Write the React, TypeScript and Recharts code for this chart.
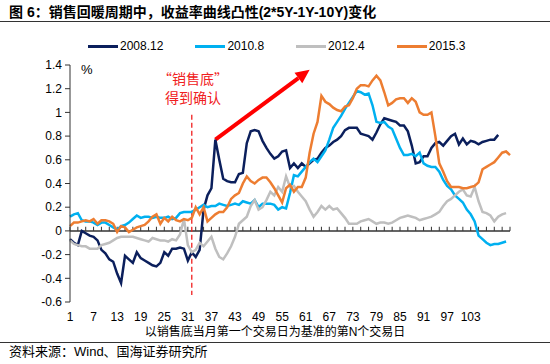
import { LineChart, Line, XAxis, YAxis, ReferenceLine } from "recharts";

// 以销售底当月第一个交易日为基准的第N个交易日
const days = Array.from({ length: 113 }, (_, i) => i + 1);
const xTickLabels = [1, 7, 13, 19, 25, 31, 37, 43, 49, 55, 61, 67, 73, 79, 85, 91, 97, 103];
const yTicks = [-0.6, -0.4, -0.2, 0, 0.2, 0.4, 0.6, 0.8, 1, 1.2, 1.4];

const seriesNames = ["2008.12", "2010.8", "2012.4", "2015.3"];
const seriesColors = ["#0B1F5C", "#00B0F0", "#BFBFBF", "#ED7D31"];

const s200812 = [
  -0.07, -0.1, -0.12, 0.0, -0.02, -0.04, -0.05, -0.08, -0.16, -0.19,
  -0.24, -0.26, -0.36, -0.44, -0.21, -0.24, -0.27, -0.18, -0.23, -0.25,
  -0.27, -0.29, -0.3, -0.27, -0.18, -0.21, -0.15, -0.15, -0.14, -0.15,
  -0.25, -0.18, -0.22, -0.16, 0.18, 0.3, 0.36, 0.77, 0.6, 0.44,
  0.42, 0.41, 0.41, 0.48, 0.49, 0.74, 0.84, 0.85, 0.84, 0.76,
  0.7, 0.65, 0.61, 0.63, 0.67, 0.68, 0.53, 0.57, 0.53, 0.57,
  0.54, 0.57, 0.6, 0.61, 0.66, 0.7, 0.72, 0.75, 0.77, 0.8,
  0.85, 0.87, 0.87, 0.87, 0.82, 0.81, 0.8, 0.77, 0.83, 0.9,
  0.95, 0.94, 0.93, 0.92, 0.89, 0.89, 0.84, 0.72, 0.57, 0.58,
  0.63, 0.63, 0.7, 0.74, 0.75, 0.72, 0.76, 0.8, 0.82, 0.73,
  0.78, 0.73, 0.76, 0.75, 0.73, 0.75, 0.76, 0.77, 0.77, 0.81,
];

const s20108 = [
  0.12, 0.14, 0.15, 0.09, 0.08, 0.08, 0.07, 0.05, 0.07, 0.07,
  0.05, 0.03, 0.01, 0.04, 0.05, 0.07, 0.1, 0.13, 0.11, 0.12,
  0.12, 0.11, 0.12, 0.11, 0.11, 0.12, 0.1, 0.11, 0.15, 0.16,
  0.16, 0.16, 0.18, 0.2, 0.22, 0.2, 0.21, 0.21, 0.23, 0.22,
  0.21, 0.22, 0.23, 0.22, 0.25, 0.24, 0.23, 0.26, 0.2, 0.23,
  0.23, 0.23, 0.22, 0.18, 0.2, 0.19, 0.32, 0.47, 0.46, 0.5,
  0.54, 0.58, 0.61, 0.58, 0.63, 0.68, 0.77, 0.87, 0.92, 0.97,
  1.03, 1.08, 1.13, 1.18, 1.17, 1.15, 1.16, 1.06, 0.92, 0.91,
  0.92, 0.88, 0.86, 0.78, 0.7, 0.64, 0.64, 0.65, 0.63, 0.66,
  0.57, 0.55, 0.54, 0.54, 0.5, 0.43, 0.38, 0.35, 0.3, 0.27,
  0.24, 0.18, 0.14, 0.08, -0.04, -0.07, -0.1, -0.12, -0.11, -0.11,
  -0.1, -0.09,
];

const s20124 = [
  -0.08, -0.11, -0.12, -0.13, -0.13, -0.15, -0.15, -0.15, -0.12, -0.11,
  -0.1, -0.08, -0.06, -0.05, -0.05, -0.05, -0.05, -0.06, -0.07, -0.08,
  -0.09, -0.06, -0.07, -0.08, -0.08, -0.09, -0.07, -0.08, -0.03, 0.1,
  -0.12, -0.18, -0.16, -0.1, -0.13, -0.09, -0.05, -0.15, -0.22, -0.24,
  -0.19, -0.13, -0.05, 0.06, 0.09, 0.12, 0.21, 0.26, 0.18, 0.2,
  0.26, 0.33, 0.3, 0.37, 0.33, 0.46, 0.37, 0.38, 0.33, 0.29,
  0.25, 0.18, 0.12, 0.16, 0.21, 0.18, 0.21, 0.18, 0.19, 0.15,
  0.11, 0.06, 0.06, 0.06, 0.08, 0.09, 0.1, 0.08, 0.06, 0.07,
  0.07, 0.06, 0.07, 0.09, 0.11, 0.12, 0.13, 0.12, 0.11, 0.09,
  0.1, 0.11, 0.12, 0.14, 0.16, 0.21, 0.25, 0.27, 0.3, 0.33,
  0.35, 0.3, 0.29, 0.37, 0.25, 0.16, 0.15, 0.13, 0.08, 0.12,
  0.14, 0.15,
];

const s20153 = [
  0.04, 0.07, 0.07, 0.08, 0.09, 0.08, 0.1, 0.06, 0.09, 0.09,
  0.08, 0.06, -0.01, 0.04, 0.03, -0.01, 0.01, 0.03, 0.04, 0.05,
  0.08, 0.12, 0.14, 0.06, 0.11, 0.08, 0.12, 0.09, 0.08, 0.1,
  0.09, 0.11, 0.2, 0.14, 0.2, 0.08, 0.11, 0.14, 0.16, 0.16,
  0.2, 0.27, 0.3, 0.32, 0.4, 0.46, 0.42, 0.4, 0.43, 0.45,
  0.45, 0.41, 0.36, 0.3, 0.24, 0.36, 0.39, 0.33, 0.37, 0.37,
  0.45, 0.66, 0.82, 0.92, 1.14, 1.09, 1.07, 1.04, 1.02, 1.01,
  1.05, 1.06, 1.12, 1.2, 1.23, 1.23, 1.22, 1.27, 1.31, 1.27,
  1.17, 1.06, 1.08, 1.11, 1.12, 1.12, 1.08, 1.12, 1.09, 1.0,
  0.98, 0.98, 1.0, 0.8, 0.57, 0.5, 0.42, 0.37, 0.37, 0.37,
  0.36, 0.36, 0.37, 0.38, 0.41, 0.52, 0.54, 0.56, 0.58, 0.62,
  0.66, 0.67, 0.64,
];

const seriesValues = [s200812, s20108, s20124, s20153];
const seriesKeys = ["s0", "s1", "s2", "s3"];

const data = days.map((d, i) => {
  const row: Record<string, number | null> = { day: d };
  seriesValues.forEach((vals, j) => {
    row[seriesKeys[j]] = i < vals.length ? vals[i] : null;
  });
  return row;
});

// small inward ticks sitting on the zero line, one every two days
const zeroTicks = days.filter((d) => d % 2 === 1);

// "销售底" marker line and the red arrow
const bottomDay = 32;
const arrowFrom = { x: 38, y: 0.77 };
const arrowTo = { x: 62, y: 1.36 };

const FONT = "'Liberation Sans', Arial, 'Noto Sans CJK SC', sans-serif";
const RED = "#FF0000";

function XTick(props: any) {
  const { x, y, payload } = props;
  if (!xTickLabels.includes(payload.value)) return <g />;
  return (
    <text x={x} y={y} dy={11} textAnchor="middle" fontSize={12} fill="#000" fontFamily={FONT}>
      {payload.value}
    </text>
  );
}

function arrowShape(p: any) {
  const { x1, y1, x2, y2 } = p;
  const ang = Math.atan2(y2 - y1, x2 - x1);
  const head = 14;
  const half = 6.5;
  const bx = x2 - head * Math.cos(ang);
  const by = y2 - head * Math.sin(ang);
  const nx = -Math.sin(ang);
  const ny = Math.cos(ang);
  return (
    <g>
      <line x1={x1} y1={y1} x2={bx} y2={by} stroke={RED} strokeWidth={4} />
      <polygon
        points={`${x2},${y2} ${bx + nx * half},${by + ny * half} ${bx - nx * half},${by - ny * half}`}
        fill={RED}
      />
    </g>
  );
}

export default function App() {
  return (
    <div
      style={{
        position: "absolute",
        left: 0,
        top: 0,
        width: 550,
        height: 364,
        background: "#fff",
        fontFamily: FONT,
        color: "#000",
      }}
    >
      <div style={{ position: "absolute", left: 9, top: 3, fontSize: 14, lineHeight: "18px", fontWeight: 700 }}>
        图 6：销售回暖周期中，收益率曲线凸性(2*5Y-1Y-10Y)变化
      </div>
      <div style={{ position: "absolute", left: 0, top: 21, width: 550, borderTop: "1px solid #333" }} />

      <div style={{ position: "absolute", left: 88, top: 38, display: "flex", gap: 32, fontSize: 12, lineHeight: "16px" }}>
        {seriesNames.map((name, i) => (
          <div key={name} style={{ display: "flex", alignItems: "center" }}>
            <span style={{ display: "inline-block", width: 30, height: 3, background: seriesColors[i], marginRight: 2 }} />
            <span>{name}</span>
          </div>
        ))}
      </div>

      <div style={{ position: "absolute", left: 81, top: 62, fontSize: 13, lineHeight: "16px" }}>%</div>

      <div
        style={{
          position: "absolute",
          left: 148,
          top: 69,
          width: 90,
          textAlign: "center",
          fontSize: 14,
          lineHeight: "19px",
          color: "#F02020",
          fontFamily: "'Noto Sans CJK SC', sans-serif",
        }}
      >
        <div>“销售底”</div>
        <div>得到确认</div>
      </div>

      <LineChart
        width={550}
        height={364}
        data={data}
        margin={{ top: 65, right: 40, left: 10, bottom: 32 }}
        style={{ position: "absolute", left: 0, top: 0 }}
      >
        <XAxis
          dataKey="day"
          height={30}
          axisLine={false}
          tickLine={false}
          interval={0}
          tick={<XTick />}
        />
        <YAxis
          width={60}
          domain={[-0.6, 1.4]}
          ticks={yTicks}
          interval={0}
          tickSize={5}
          tickMargin={3}
          axisLine={{ stroke: "#333" }}
          tickLine={{ stroke: "#333" }}
          tick={{ fontSize: 12, fill: "#000", fontFamily: FONT }}
        />
        <ReferenceLine y={0} stroke="#333" strokeWidth={1.5} />
        {zeroTicks.map((d) => (
          <ReferenceLine
            key={d}
            segment={[
              { x: d, y: 0 },
              { x: d, y: 0.035 },
            ]}
            stroke="#333"
            strokeWidth={1}
          />
        ))}
        <ReferenceLine
          segment={[
            { x: bottomDay, y: 0.98 },
            { x: bottomDay, y: -0.54 },
          ]}
          stroke="#F02020"
          strokeDasharray="5 3"
          strokeWidth={1.3}
        />
        <ReferenceLine
          segment={[arrowFrom, arrowTo]}
          stroke={RED}
          shape={arrowShape}
        />
        {seriesKeys.map((k, i) => (
          <Line
            key={k}
            type="linear"
            dataKey={k}
            name={seriesNames[i]}
            stroke={seriesColors[i]}
            strokeWidth={2.5}
            dot={false}
            activeDot={false}
            isAnimationActive={false}
          />
        ))}
      </LineChart>

      <div style={{ position: "absolute", left: 0, top: 324, width: 550, textAlign: "center", fontSize: 12, lineHeight: "16px" }}>
        以销售底当月第一个交易日为基准的第N个交易日
      </div>
      <div style={{ position: "absolute", left: 0, top: 342, width: 550, borderTop: "1px solid #333" }} />
      <div style={{ position: "absolute", left: 9, top: 344, fontSize: 13, lineHeight: "16px" }}>
        资料来源：Wind、国海证券研究所
      </div>
    </div>
  );
}
